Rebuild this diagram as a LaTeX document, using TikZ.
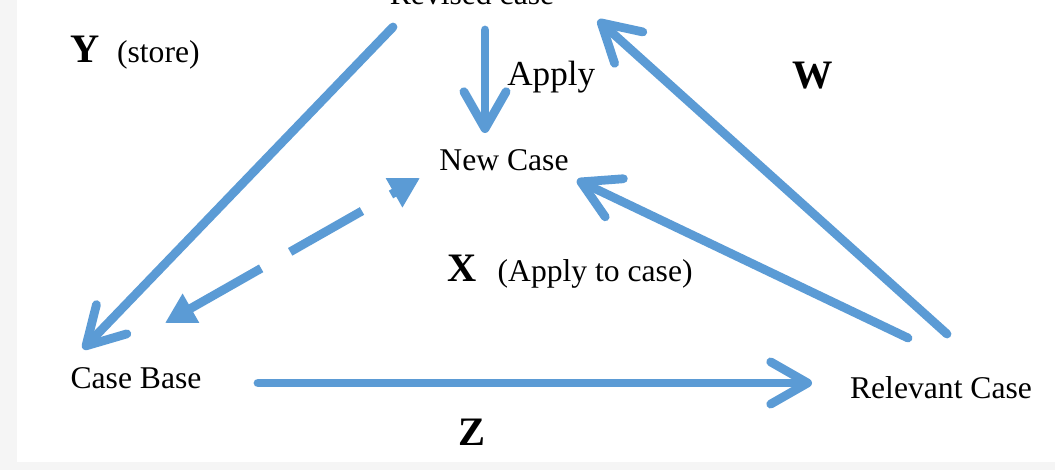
\documentclass[tikz,border=0pt]{standalone}
\usepackage{fontspec}
\setmainfont{Liberation Serif}
\usepackage{xcolor}
\usetikzlibrary{arrows.meta}
\definecolor{azulflecha}{HTML}{5B9BD5}
\definecolor{grisborde}{HTML}{F5F5F5}
\newcommand{\letrafuente}{\fontsize{23}{26}\selectfont\bfseries}

\begin{document}
\begin{tikzpicture}[x=0.2mm, y=-0.2mm,
		flecha/.style={draw=azulflecha, line width=5pt, line cap=round,
				-{Straight Barb[length=21pt, width=24pt, line cap=round, round]}},
		flechadoble/.style={draw=azulflecha, line width=5pt,
				dash pattern=on 47pt off 19pt,
				{Triangle[length=17pt, width=18pt]}-{Triangle[length=17pt, width=18pt]}},
		texto/.style={font=\fontsize{18}{22}\selectfont, inner sep=0pt},
		letra/.style={font=\letrafuente}]
			% Fondo
			\fill[grisborde] (0,0) rectangle (1055,470);
			\fill[white] (17,0) rectangle (1055,462);
			\useasboundingbox (0,0) rectangle (1055,470);

			% Casos
			\node[texto, anchor=base] (revised) at (472,5) {Revised case};
			\node[texto] (newcase) at (504,160) {New Case};
			\node[texto] (casebase) at (136,378) {Case Base};
			\node[texto] (relevant) at (941,388) {Relevant Case};

			% Etiquetas
			\node[texto, anchor=base west] (apply) at (507,86) {\fontsize{20}{24}\selectfont Apply};
			\node[texto, anchor=base west] (ystore) at (70,63) {{\letrafuente Y}\hspace{10pt}(store)};
			\node[texto, anchor=base west] (xapply) at (447,281) {{\letrafuente X}\hspace{12pt}(Apply to case)};
			\node[texto, letra, anchor=base] (wlabel) at (813,89) {W};
			\node[texto, letra, anchor=base] (zlabel) at (472,445) {Z};

			% Extremos de las flechas
			\coordinate (revised-sw) at (393,27);
			\coordinate (revised-s) at (485,30);
			\coordinate (revised-se) at (598,20);
			\coordinate (newcase-n) at (485,133);
			\coordinate (newcase-sw) at (420,178);
			\coordinate (newcase-se) at (577,180);
			\coordinate (casebase-nw) at (83,349);
			\coordinate (casebase-ne) at (165,323);
			\coordinate (casebase-e) at (258,383);
			\coordinate (relevant-w) at (812,383);
			\coordinate (relevant-nw) at (908,338);
			\coordinate (relevant-n) at (947,334);

			% Flechas
			\foreach \desde/\hasta in {revised-sw/casebase-nw, revised-s/newcase-n,
					relevant-n/revised-se, relevant-nw/newcase-se, casebase-e/relevant-w}
				{
					\draw[flecha] (\desde) -- (\hasta);
				}
			\draw[flechadoble] (casebase-ne) -- (newcase-sw);

\end{tikzpicture}
\end{document}
